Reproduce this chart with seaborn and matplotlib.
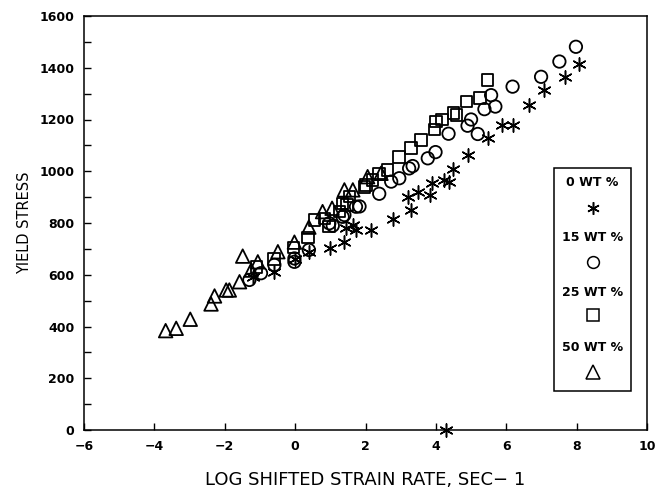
import matplotlib
matplotlib.use("Agg")
import matplotlib.pyplot as plt
import seaborn as sns
import numpy as np
from matplotlib.patches import Rectangle

# ---- data ----
x_0wt = [-1.2, -0.6, 0.0, 0.4, 1.0, 1.4, 1.45, 1.64, 1.73, 2.16, 2.77, 3.2, 3.3, 3.48, 3.82,
         3.88, 4.22, 4.38, 4.5, 4.9, 5.47, 5.88, 6.18, 6.65, 7.08, 7.68, 8.06, 4.28]
y_0wt = [590, 612, 660, 689, 702, 728, 780, 792, 773, 773, 814, 902, 850, 921, 908,
         956, 966, 960, 1009, 1063, 1127, 1179, 1179, 1256, 1314, 1363, 1415, 0]

x_15wt = [-1.3, -0.97, -0.59, -0.02, -0.02, 0.39, 0.97, 1.07, 1.35, 1.4, 1.73, 1.83, 2.39,
          2.73, 2.96, 3.24, 3.34, 3.77, 3.99, 4.36, 4.9, 5.0, 5.19, 5.38, 5.57, 5.69, 6.18,
          6.99, 7.51, 7.98]
y_15wt = [580, 606, 638, 663, 650, 696, 799, 790, 824, 831, 863, 864, 913,
          960, 973, 1011, 1020, 1050, 1074, 1145, 1176, 1200, 1144, 1240, 1294, 1250, 1327,
          1365, 1424, 1481]

x_25wt = [-1.1, -0.6, -0.05, 0.36, 0.55, 0.83, 0.97, 1.26, 1.35, 1.47, 1.54, 1.97, 2.01,
          2.2, 2.39, 2.63, 2.96, 3.3, 3.58, 3.96, 4.0, 4.17, 4.5, 4.59, 4.87, 5.25, 5.47]
y_25wt = [631, 660, 705, 744, 812, 818, 786, 844, 876, 870, 902, 940, 947,
          966, 992, 1005, 1056, 1089, 1121, 1161, 1192, 1200, 1224, 1217, 1270, 1283, 1352]

x_50wt = [-3.68, -3.38, -2.98, -2.39, -2.29, -1.96, -1.87, -1.58, -1.49, -1.25, -1.06,
          -0.49, -0.02, 0.39, 0.78, 1.05, 1.40, 1.64, 2.06, 2.44]
y_50wt = [384, 393, 428, 487, 518, 541, 541, 573, 672, 618, 650,
          689, 726, 784, 844, 857, 928, 928, 979, 992]

legend_labels = ["0 WT %", "15 WT %", "25 WT %", "50 WT %"]
x_ticks = [-6, -4, -2, 0, 2, 4, 6, 8, 10]
y_ticks = [0, 200, 400, 600, 800, 1000, 1200, 1400, 1600]

sns.set_theme(style="ticks")
plt.rcParams["font.family"] = ["DejaVu Sans"]

fig = plt.figure(figsize=(6.56, 4.92), dpi=100)
ax = fig.add_axes([84 / 656, 1 - 430 / 492, 563 / 656, 414 / 492])

asterisk = (6, 2, 0)
ms = 80
lw = 1.3

sns.scatterplot(x=x_0wt, y=y_0wt, marker=asterisk, s=90, color="black",
                linewidth=1.1, ax=ax, clip_on=False, zorder=3)
sns.scatterplot(x=x_15wt, y=y_15wt, marker="o", s=ms, facecolor="none",
                edgecolor="black", linewidth=lw, ax=ax, zorder=3)
sns.scatterplot(x=x_25wt, y=y_25wt, marker="s", s=70, facecolor="none",
                edgecolor="black", linewidth=lw, ax=ax, zorder=3)
sns.scatterplot(x=x_50wt, y=y_50wt, marker="^", s=95, facecolor="none",
                edgecolor="black", linewidth=lw, ax=ax, zorder=3)
for coll in ax.collections[1:]:
    coll.set_facecolor("none")
    coll.set_edgecolor("black")

ax.set_xlim(-6, 10)
ax.set_ylim(0, 1600)
ax.set_xticks(x_ticks)
ax.set_yticks(y_ticks)
ax.set_yticks(np.arange(100, 1600, 200), minor=True)
ax.set_xticklabels([str(t) if t >= 0 else "\u2212" + str(-t) for t in x_ticks])

for s in ax.spines.values():
    s.set_linewidth(1.1)
    s.set_color("black")
    s.set_visible(True)

ax.tick_params(axis="both", which="major", direction="in", length=5, width=1.0,
               color="black", labelsize=9, pad=7)
ax.tick_params(axis="y", which="minor", direction="in", length=5, width=1.0, color="black")
for lab in ax.get_xticklabels() + ax.get_yticklabels():
    lab.set_fontweight("bold")
    lab.set_color("black")

ax.set_xlabel("LOG SHIFTED STRAIN RATE, SEC\u2212 1", fontsize=13, color="black")
ax.set_ylabel("YIELD STRESS", fontsize=10.5, color="black")
ax.xaxis.set_label_coords(0.5, -0.100, transform=ax.transAxes)
ax.xaxis.label.set_va("top")
ax.yaxis.set_label_coords(-0.092, 0.5, transform=ax.transAxes)

# legend box
lx0, lx1 = 0.835, 0.9716
ly0, ly1 = 0.094, 0.633
ax.add_patch(Rectangle((lx0, ly0), lx1 - lx0, ly1 - ly0, transform=ax.transAxes,
                       facecolor="white", edgecolor="black", linewidth=1.1, zorder=5))
cx = (lx0 + lx1) / 2
text_rows = [0.599, 0.466, 0.333, 0.200]
mark_rows = [0.536, 0.406, 0.278, 0.140]
leg_markers = [asterisk, "o", "s", "^"]
leg_sizes = [9, 8.5, 8, 9.5]
for lab, ty, my, mk, sz in zip(legend_labels, text_rows, mark_rows, leg_markers, leg_sizes):
    ax.text(cx, ty, lab, transform=ax.transAxes, ha="center", va="center",
            fontsize=9, fontweight="bold", color="black", zorder=6)
    ax.plot([cx], [my], transform=ax.transAxes, marker=mk, markersize=sz,
            markerfacecolor="none", markeredgecolor="black", color="black",
            markeredgewidth=1.1, linestyle="none", zorder=6)

fig.savefig("out.png", dpi=100)
